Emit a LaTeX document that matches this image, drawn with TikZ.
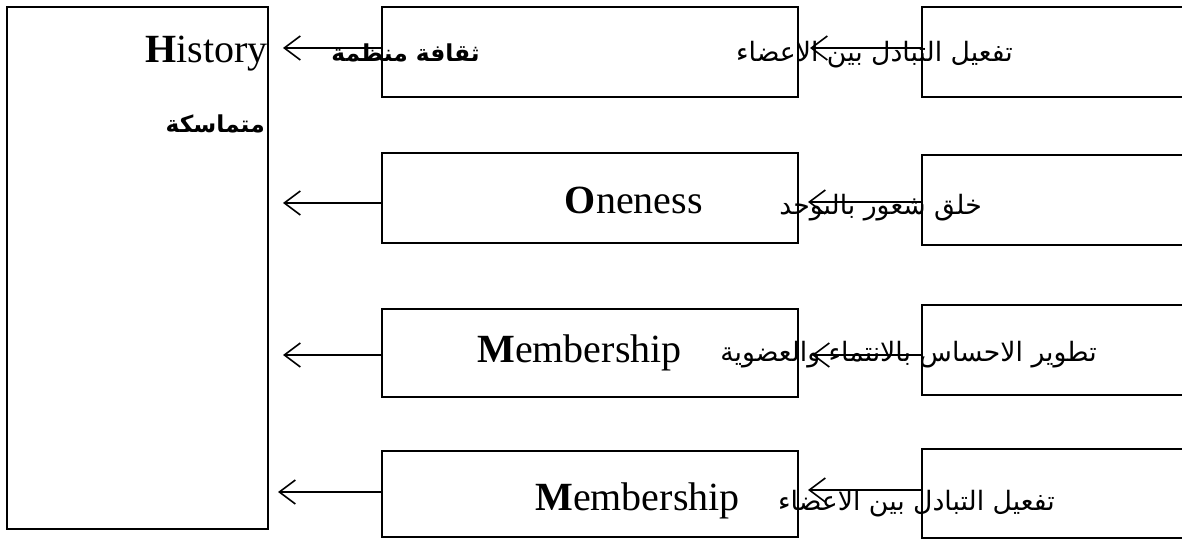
\documentclass[tikz,border=0pt]{standalone}
\usepackage{fontspec}
\setmainfont{Liberation Serif}
\newfontfamily\arabicfont[Script=Arabic]{DejaVu Sans}
\TeXXeTstate=1
\usetikzlibrary{arrows.meta}
\begin{document}
\begin{tikzpicture}[x=0.75pt,y=-0.75pt,
  box/.style={draw,line width=1.4pt,inner sep=0pt,outer sep=0pt},
  conn/.style={line width=1.2pt,-{Straight Barb[length=12pt,width=18pt]}},
  lat/.style={font=\fontsize{30}{36}\selectfont,inner sep=0pt,anchor=base east},
  arab/.style={font=\arabicfont\fontsize{20}{26}\selectfont,inner sep=0pt,anchor=base east},
  arabb/.style={font=\arabicfont\bfseries\fontsize{17.5}{24}\selectfont,inner sep=0pt,anchor=base east},
]
\useasboundingbox (0,0) rectangle (1182,541);
\clip (0,0) rectangle (1182,541);
% boxes
\node[box,minimum width=195.75pt,minimum height=391.5pt] (left) at (137.5,268) {};
\node[box,minimum width=312pt,minimum height=67.5pt] (mid1) at (590,52) {};
\node[box,minimum width=312pt,minimum height=67.5pt] (mid2) at (590,198) {};
\node[box,minimum width=312pt,minimum height=66pt] (mid3) at (590,353) {};
\node[box,minimum width=312pt,minimum height=64.5pt] (mid4) at (590,494) {};
\node[box,minimum width=208.5pt,minimum height=67.5pt] (r1) at (1061,52) {};
\node[box,minimum width=208.5pt,minimum height=67.5pt] (r2) at (1061,200) {};
\node[box,minimum width=208.5pt,minimum height=67.5pt] (r3) at (1061,350) {};
\node[box,minimum width=208.5pt,minimum height=66.75pt] (r4) at (1061,493.5) {};
% arrow end points
\coordinate (t1) at (283,48);
\coordinate (t2) at (283,203);
\coordinate (t3) at (283,355);
\coordinate (t4) at (278,492);
\coordinate (u1) at (810,48);
\coordinate (u2) at (808,202);
\coordinate (u3) at (812,355);
\coordinate (u4) at (808,490);
\draw[conn] (mid1.west |- t1) -- (t1);
\draw[conn] (mid2.west |- t2) -- (t2);
\draw[conn] (mid3.west |- t3) -- (t3);
\draw[conn] (mid4.west |- t4) -- (t4);
\draw[conn] (r1.west |- u1) -- (u1);
\draw[conn] (r2.west |- u2) -- (u2);
\draw[conn] (r3.west |- u3) -- (u3);
\draw[conn] (r4.west |- u4) -- (u4);
% texts
\node[lat] (hist) at (268,63) {\textbf{H}istory};
\node[arabb] (mut) at (265,133) {\beginR متماسكة\endR};
\node[arabb] (thaq) at (480,62) {\beginR ثقافة منظمة\endR};
\node[arab] (taf1) at (1013,62) {\beginR تفعيل التبادل بين الاعضاء\endR};
\node[lat] (one) at (703,214) {\textbf{O}neness};
\node[arab] (khalq) at (982,215) {\beginR خلق شعور بالتوحد\endR};
\node[lat] (mem1) at (682,363) {\textbf{M}embership};
\node[arab] (tatw) at (1097,362) {\beginR تطوير الاحساس بالانتماء والعضوية\endR};
\node[lat] (mem2) at (740,510) {\textbf{M}embership};
\node[arab] (taf2) at (1055,510) {\beginR تفعيل التبادل بين الاعضاء\endR};
\end{tikzpicture}
\end{document}
